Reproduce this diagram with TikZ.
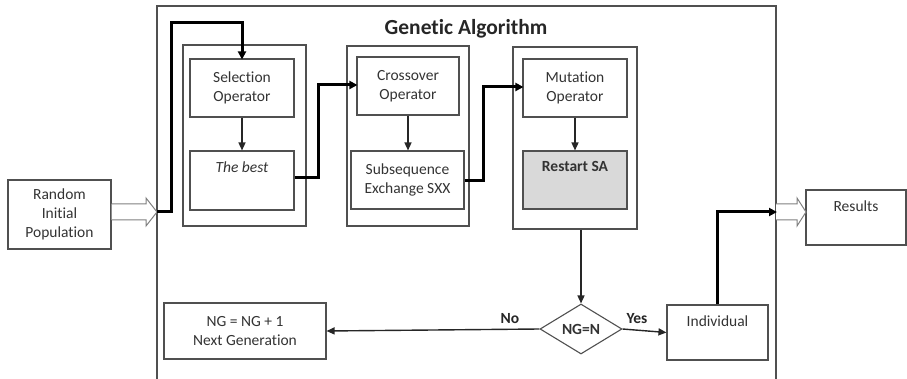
\documentclass[tikz,border=0pt]{standalone}
\usepackage{fontspec}
\setmainfont{Carlito}[Ligatures={NoCommon}]
\usetikzlibrary{arrows.meta,shapes.geometric,calc}
\definecolor{boxline}{HTML}{505050}
\definecolor{hollow}{HTML}{808080}
\definecolor{shade}{HTML}{D9D9D9}
\tikzset{
  every node/.style={font=\fontsize{15.5}{19}\selectfont, text=black!80},
  box/.style={draw=boxline, line width=1.1pt, minimum width=#1, inner sep=0pt},
  grp/.style={draw=boxline, line width=1.1pt, inner sep=0pt},
  thin arrow/.style={draw=black!85, line width=1.4pt, -{Triangle[length=8pt,width=7pt]}},
  thick arrow/.style={draw=black, line width=3pt, -{Triangle[length=8pt,width=8pt]}, shorten >=-1pt},
  fat arrow/.style={draw=hollow, line width=1pt, fill=white},
  answer/.style={font=\fontsize{15.5}{19}\selectfont\bfseries, text=black!85},
  toptext/.style={anchor=north, inner sep=0pt},
}
\begin{document}
\begin{tikzpicture}[x=1pt,y=-1pt]
\useasboundingbox (0,0) rectangle (907,379);

% outer frame of the algorithm, open at the bottom
\coordinate (frameBL) at (157,379);
\coordinate (frameTL) at (157,6);
\coordinate (frameTR) at (776,6);
\coordinate (frameBR) at (776,379);
\draw[boxline, line width=1.1pt] (frameBL) -- (frameTL) -- (frameTR) -- (frameBR);
\node[font=\fontsize{21.5}{25}\selectfont\bfseries, text=black!85] (title) at (466,29) {Genetic Algorithm};

% operator groups
\node[grp, minimum width=123pt, minimum height=181pt] (g1) at (244.5,135.5) {};
\node[grp, minimum width=122pt, minimum height=180pt] (g2) at (408,136) {};
\node[grp, minimum width=124pt, minimum height=182pt] (g3) at (575,138) {};

% inner boxes
\node[box=104pt, minimum height=58pt, align=center] (sel) at (242,88) {Selection\\Operator};
\node[box=104pt, minimum height=59pt] (best) at (242,180.5) {};
\node[toptext] (bestTxt) at ([yshift=-11pt]best.north) {\textit{The best}};

\node[box=102pt, minimum height=58pt, align=center] (xo) at (408,86) {Crossover\\Operator};
\node[box=113pt, minimum height=58pt, align=center] (sub) at (407.5,180) {Subsequence\\Exchange SXX};

\node[box=104pt, minimum height=58pt, align=center] (mut) at (575,88) {Mutation\\Operator};
\node[box=104pt, minimum height=58pt, fill=shade] (rsa) at (575,180) {};
\node[toptext, font=\fontsize{15.5}{19}\selectfont\bfseries] (rsaTxt) at ([yshift=-11pt]rsa.north) {Restart SA};

% outside boxes
\node[box=103pt, minimum height=69pt, align=center] (rand) at (59.5,214.5) {Random\\Initial\\Population};
\node[box=100pt, minimum height=55pt] (res) at (856,217.5) {};
\node[toptext] (resTxt) at ([yshift=-11pt]res.north) {Results};

% bottom row
\node[box=162pt, minimum height=56pt, align=center] (ng) at (245,331) {NG = NG + 1\\Next Generation};
\node[draw=boxline, line width=1.1pt, diamond, aspect=1.64, minimum width=82pt, minimum height=50pt, inner sep=0pt, font=\fontsize{15.5}{19}\selectfont\bfseries] (dec) at (581,329) {NG=N};
\node[box=101pt, minimum height=55pt] (ind) at (717.5,332.5) {};
\node[toptext] (indTxt) at ([yshift=-11pt]ind.north) {Individual};

% hollow block arrows
\coordinate (inTip) at (157,212);
\coordinate (outTip) at (806,212);
\draw[fat arrow] (rand.east |- 0,204) -- (146,204) -- (146,198) -- (inTip) -- (146,226) -- (146,220) -- (rand.east |- 0,220);
\draw[fat arrow] (776,204) -- (797,204) -- (797,198) -- (outTip) -- (797,226) -- (797,220) -- (776,220);

% thick flow arrows between the groups
\coordinate (loopA) at (171,212);
\coordinate (loopB) at (171,23);
\draw[thick arrow] (inTip) -- (loopA) -- (loopB) -- (loopB -| sel.north) -- (sel.north);
\draw[thick arrow] (best.east |- 0,178) -- (318,178) -- (318,85) -- (xo.west |- 0,85);
\draw[thick arrow] (sub.east |- 0,181) -- (483,181) -- (483,87) -- (mut.west |- 0,87);
\draw[thick arrow] (ind.north) -- (ind.north |- 0,212) -- (frameTR |- 0,212);

% thin arrows inside the groups
\draw[thin arrow] (sel.south) -- (best.north);
\draw[thin arrow] (xo.south) -- (xo.south |- sub.north);
\draw[thin arrow] (mut.south) -- (rsa.north);
\draw[thin arrow] (dec.north |- g3.south) -- (dec.north);
\draw[thin arrow] (dec.west) -- (ng.east);
\draw[thin arrow] (dec.east) -- (ind.west);

% decision labels
\node[answer] (noLbl) at (510,319) {No};
\node[answer] (yesLbl) at (637,319) {Yes};
\end{tikzpicture}
\end{document}
